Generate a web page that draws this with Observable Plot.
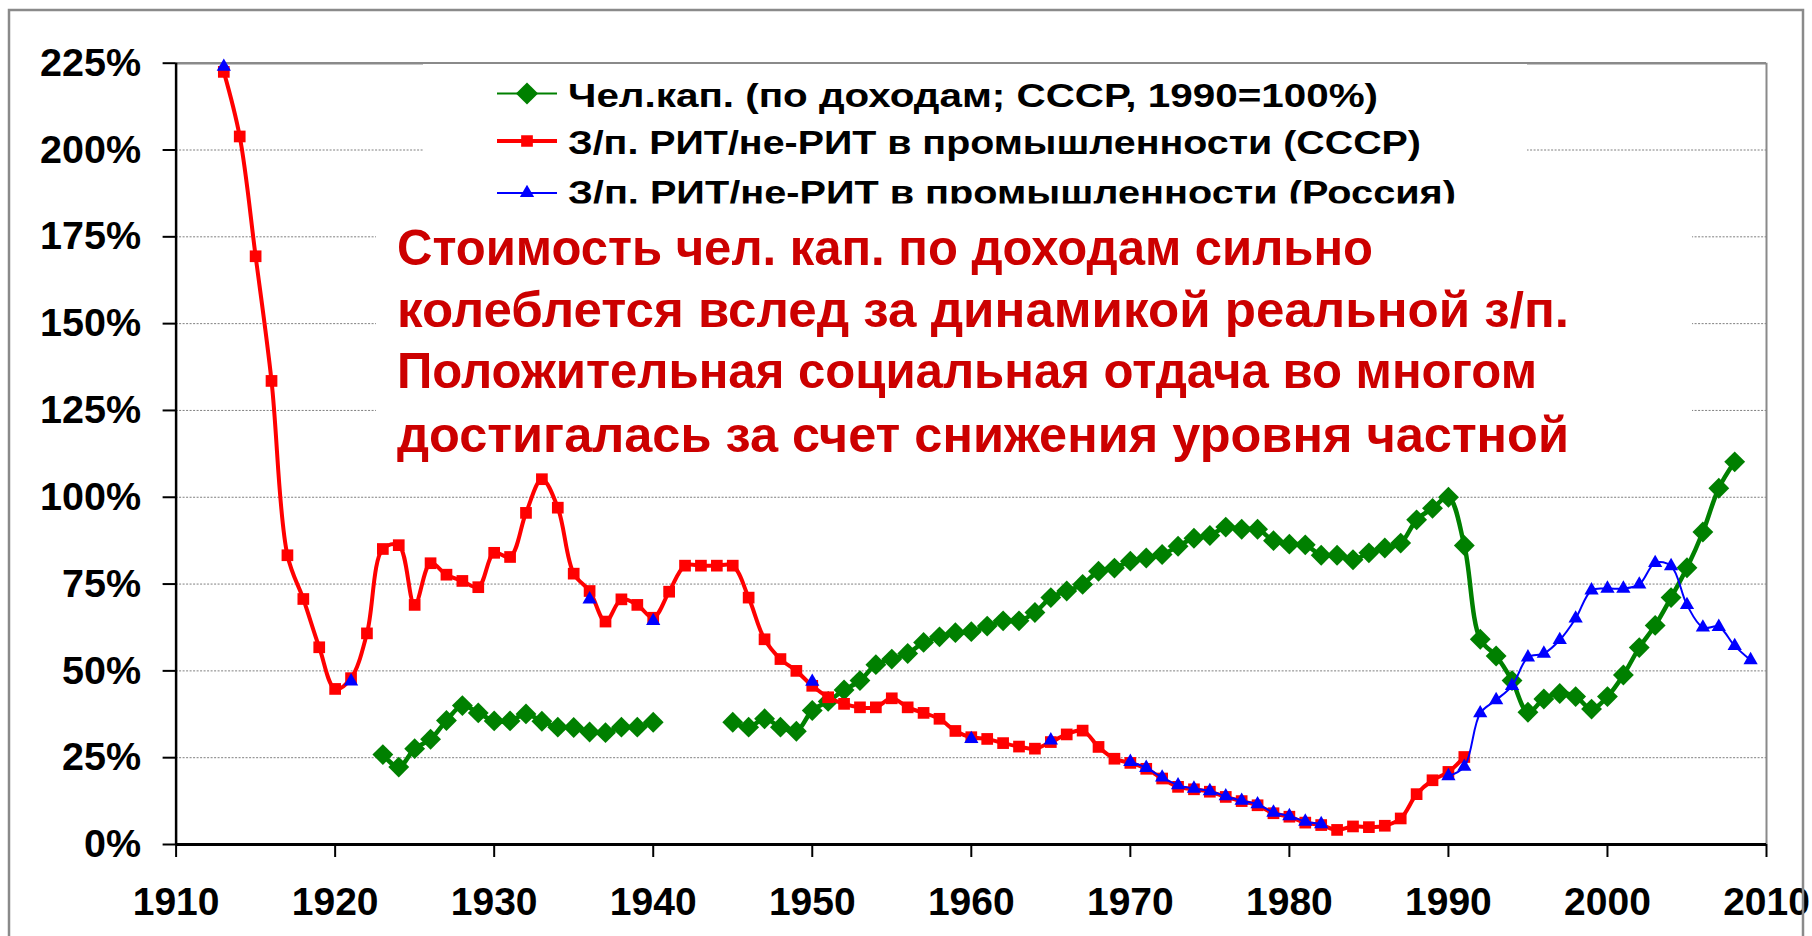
<!DOCTYPE html>
<html><head><meta charset="utf-8">
<script src="https://cdn.jsdelivr.net/npm/d3@7"></script>
<script src="https://cdn.jsdelivr.net/npm/@observablehq/plot@0.6"></script>
<style>
html,body{margin:0;padding:0;background:#fff;}
#wrap{position:relative;width:1812px;height:936px;overflow:hidden;background:#fff;}
#wrap svg{position:absolute;left:0;top:0;}
#wrap svg text{font-weight:bold;}
</style></head><body><div id="wrap"></div>
<script>
// ---------- data ----------
const xTicks = [1910, 1920, 1930, 1940, 1950, 1960, 1970, 1980, 1990, 2000, 2010];
const yTicks = [0, 25, 50, 75, 100, 125, 150, 175, 200, 225];

const seriesNames = [
  "Чел.кап. (по доходам; СССР, 1990=100%)",
  "З/п. РИТ/не-РИТ в промышленности (СССР)",
  "З/п. РИТ/не-РИТ в промышленности (Россия)"
];

// Human capital (by income), USSR, 1990 = 100%  (1941-1944: no data)
const capitalYears = [1923,1924,1925,1926,1927,1928,1929,1930,1931,1932,1933,1934,1935,1936,1937,1938,1939,1940,
  1941,1942,1943,1944,1945,1946,1947,1948,1949,1950,1951,1952,1953,1954,1955,1956,1957,1958,1959,1960,
  1961,1962,1963,1964,1965,1966,1967,1968,1969,1970,1971,1972,1973,1974,1975,1976,1977,1978,1979,1980,
  1981,1982,1983,1984,1985,1986,1987,1988,1989,1990,1991,1992,1993,1994,1995,1996,1997,1998,1999,2000,
  2001,2002,2003,2004,2005,2006,2007,2008];
const capitalValues = [25.9,22.3,27.6,30.3,35.7,40.0,37.9,35.6,35.6,37.6,35.5,33.8,33.7,32.4,32.2,33.8,33.8,35.2,
  null,null,null,null,35.2,33.8,36.2,33.8,32.6,38.6,41.2,44.5,47.2,51.8,53.4,55.0,58.2,59.8,61.0,61.3,
  62.9,64.4,64.4,66.8,71.1,73.0,74.9,78.7,79.6,81.6,82.5,83.5,85.9,88.2,89.0,91.4,90.8,90.8,87.5,86.5,
  86.3,83.3,83.3,82.0,84.0,85.4,86.8,93.5,96.8,100.0,86.1,59.1,54.3,47.2,38.1,41.9,43.5,42.6,39.0,42.6,
  48.8,56.7,63.1,71.1,79.7,90.0,102.6,110.2];

// Wage ratio engineers / workers in industry, USSR
const ussrYears = [1913,1914,1915,1916,1917,1918,1919,1920,1921,1922,1923,1924,1925,1926,1927,1928,1929,1930,
  1931,1932,1933,1934,1935,1936,1937,1938,1939,1940,1941,1942,1943,1944,1945,1946,1947,1948,1949,1950,
  1951,1952,1953,1954,1955,1956,1957,1958,1959,1960,1961,1962,1963,1964,1965,1966,1967,1968,1969,1970,
  1971,1972,1973,1974,1975,1976,1977,1978,1979,1980,1981,1982,1983,1984,1985,1986,1987,1988,1989,1990,1991];
const ussrValues = [222.5,203.9,169.4,133.5,83.3,70.7,56.8,44.8,47.9,60.8,85.1,86.2,69.0,81.0,77.7,75.9,74.1,84.0,
  82.8,95.5,105.2,97.0,78.0,73.0,64.2,70.6,69.0,65.3,72.8,80.3,80.3,80.3,80.3,71.1,59.1,53.4,50.0,45.7,
  42.4,40.5,39.5,39.5,42.1,39.5,37.9,36.2,32.7,30.9,30.4,29.2,28.2,27.6,29.5,31.7,32.8,28.1,24.7,23.5,
  21.8,19.0,16.6,15.9,15.2,13.7,12.5,11.3,9.0,8.0,6.3,5.6,4.2,5.2,5.0,5.4,7.5,14.5,18.5,20.9,25.2];

// Wage ratio engineers / workers in industry, Russia
const russiaYears = [1913,1921,1936,1940,1950,1960,1965,1970,1971,1972,1973,1974,1975,1976,1977,1978,1979,1980,
  1981,1982,1990,1991,1992,1993,1994,1995,1996,1997,1998,1999,2000,2001,2002,2003,2004,2005,2006,2007,2008,2009];
const russiaValues = [224.0,47.0,70.6,64.4,46.9,30.4,30.0,23.8,22.1,19.3,17.1,16.1,15.4,13.9,12.6,11.6,9.2,8.2,
  6.6,5.9,19.7,22.4,37.8,41.6,45.7,53.9,55.0,58.9,65.1,73.2,73.7,73.7,74.9,81.1,80.2,69.0,62.5,62.7,57.2,53.1];

const noteLines = [
  "Стоимость чел. кап. по доходам сильно",
  "колеблется вслед за динамикой реальной з/п.",
  "Положительная социальная отдача во многом",
  "достигалась за счет снижения уровня частной"
];

// ---------- tables ----------
const capital = capitalYears.map((year, i) => ({year, value: capitalValues[i]}));
const ussr = ussrYears.map((year, i) => ({year, value: ussrValues[i]}));
const russiaMap = new Map(russiaYears.map((y, i) => [y, russiaValues[i]]));
const russia = d3.range(d3.min(russiaYears), d3.max(russiaYears) + 1)
  .map(year => ({year, value: russiaMap.has(year) ? russiaMap.get(year) : null}));

const GREEN = "#008000", RED = "#ff0000", BLUE = "#0000ff";
const FONT = "'Liberation Sans', Arial, Helvetica, sans-serif";

const chart = Plot.plot({
  width: 1812, height: 936,
  marginLeft: 175.6, marginRight: 46, marginTop: 62.7, marginBottom: 92,
  x: {domain: [1910, 2010], label: null},
  y: {domain: [0, 225], label: null},
  style: {fontFamily: FONT, background: "transparent", overflow: "visible", color: "black"},
  marks: [
    Plot.gridY(yTicks.filter(d => d > 0 && d < 225), {stroke: "#7f7f7f", strokeOpacity: 1, strokeWidth: 1, strokeDasharray: "2,1.5"}),
    Plot.ruleY([225], {stroke: "#8a8a8a", strokeWidth: 2.5}),
    Plot.ruleX([2010], {stroke: "#8a8a8a", strokeWidth: 2}),
    Plot.axisX(xTicks, {tickFormat: d => String(d), tickSize: 13, tickPadding: 30, fontSize: 39, fontWeight: "bold",
      label: null, stroke: "black", strokeWidth: 2, fill: "black"}),
    Plot.axisY(yTicks, {tickFormat: d => d + "%", tickSize: 13, tickPadding: 22, fontSize: 39.5, fontWeight: "bold",
      label: null, stroke: "black", strokeWidth: 2, fill: "black"}),
    Plot.ruleX([1910], {stroke: "black", strokeWidth: 2.5}),
    Plot.ruleY([0], {stroke: "black", strokeWidth: 3}),
    Plot.line(capital, {x: "year", y: "value", stroke: GREEN, strokeWidth: 4.5, curve: "catmull-rom"}),
    Plot.dot(capital, {x: "year", y: "value", symbol: "diamond2", r: 9.4, fill: GREEN, stroke: "none"}),
    Plot.line(ussr, {x: "year", y: "value", stroke: RED, strokeWidth: 4, curve: "catmull-rom"}),
    Plot.dot(ussr, {x: "year", y: "value", symbol: "square", r: 6.6, fill: RED, stroke: "none"}),
    Plot.line(russia, {x: "year", y: "value", stroke: BLUE, strokeWidth: 2, curve: "catmull-rom"}),
    Plot.dot(russia, {x: "year", y: "value", symbol: "triangle", r: 5.3, fill: BLUE, stroke: "none"})
  ]
});
document.getElementById("wrap").appendChild(chart);

// ---------- overlay: frame, legend, note ----------
const ov = d3.create("svg").attr("width", 1812).attr("height", 936)
  .style("font-family", FONT).style("overflow", "hidden");

ov.append("rect").attr("x", 9).attr("y", 10).attr("width", 1794).attr("height", 960)
  .attr("fill", "none").attr("stroke", "#8a8a8a").attr("stroke-width", 2.5);

// legend
const defs = ov.append("defs");
defs.append("clipPath").attr("id", "legclip").append("rect")
  .attr("x", 423).attr("y", 64).attr("width", 1104).attr("height", 139.5);
ov.append("rect").attr("x", 423).attr("y", 64).attr("width", 1104).attr("height", 139.5).attr("fill", "white");
const leg = ov.append("g").attr("clip-path", "url(#legclip)");
const legColors = [GREEN, RED, BLUE];
const legSymbols = [d3.symbolDiamond2, d3.symbolSquare, d3.symbolTriangle];
const legSizes = [Math.PI * 10 * 10, Math.PI * 6.6 * 6.6, Math.PI * 5.3 * 5.3];
const legWidths = [2, 4, 2];
const legCenters = [93.5, 141, 193];
const legBaselines = [107, 154, 204];
const legTextLen = [810, 853, 888];
seriesNames.forEach((name, i) => {
  leg.append("line").attr("x1", 497).attr("x2", 557).attr("y1", legCenters[i]).attr("y2", legCenters[i])
    .attr("stroke", legColors[i]).attr("stroke-width", legWidths[i]);
  leg.append("path").attr("d", d3.symbol(legSymbols[i], legSizes[i])())
    .attr("transform", `translate(527,${legCenters[i]})`).attr("fill", legColors[i]);
  leg.append("text").attr("x", 568).attr("y", legBaselines[i]).attr("font-size", 32.5)
    .attr("font-weight", "bold").attr("fill", "black")
    .attr("textLength", legTextLen[i]).attr("lengthAdjust", "spacingAndGlyphs").text(name);
});

// note box
ov.append("rect").attr("x", 376).attr("y", 204).attr("width", 1316).attr("height", 266).attr("fill", "white");
const noteBaselines = [265, 327, 388, 452];
const noteLen = [976, 1172, 1140, 1172];
noteLines.forEach((t, i) => {
  ov.append("text").attr("x", 397).attr("y", noteBaselines[i]).attr("font-size", 50)
    .attr("font-weight", "bold").attr("fill", "#cc0000")
    .attr("textLength", noteLen[i]).attr("lengthAdjust", "spacingAndGlyphs").text(t);
});

document.getElementById("wrap").appendChild(ov.node());
</script></body></html>
